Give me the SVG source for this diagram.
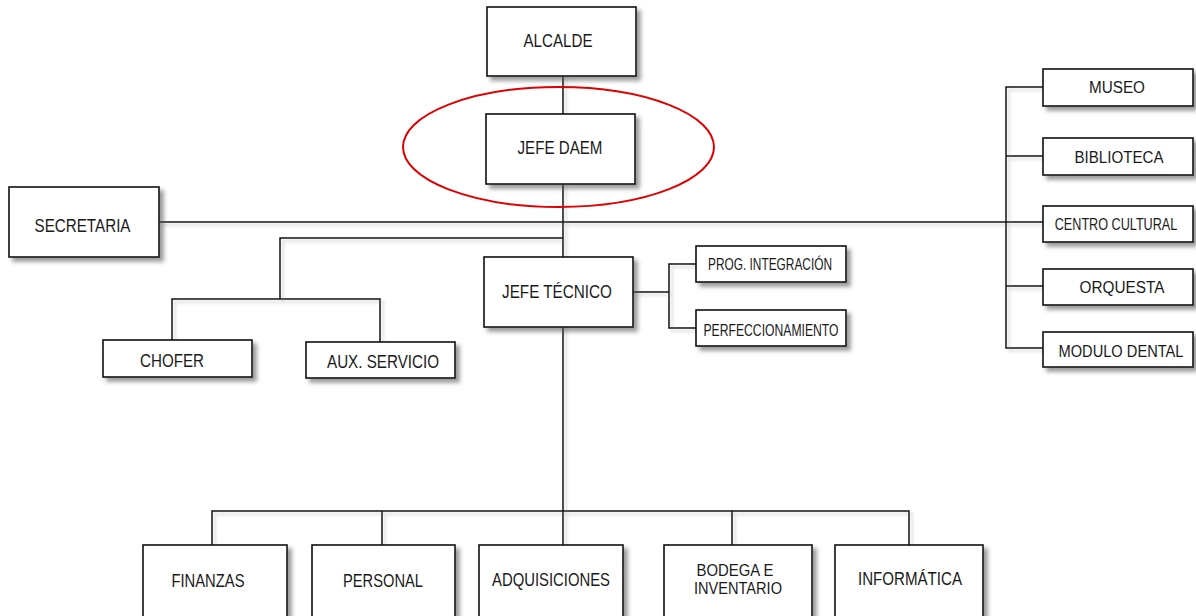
<svg xmlns="http://www.w3.org/2000/svg" width="1196" height="616" viewBox="0 0 1196 616">
<style>
.box{fill:#fff;stroke:#111;stroke-width:1.6;filter:url(#sh)}
.t{font-family:"Liberation Sans",Arial,sans-serif;font-size:17.5px;fill:#1a1a1a;text-anchor:middle}
.s{font-size:16px}
.c{fill:none;stroke:#111;stroke-width:1.5}
</style>
<defs>
<filter id="sh" x="-10%" y="-20%" width="130%" height="150%">
<feDropShadow dx="4" dy="4" stdDeviation="2" flood-color="#555" flood-opacity="0.6"/>
</filter>
<filter id="lsh" x="-5%" y="-5%" width="110%" height="110%">
<feDropShadow dx="3" dy="3" stdDeviation="1.5" flood-color="#999" flood-opacity="0.45"/>
</filter>
</defs>
<rect width="1196" height="616" fill="#fff"/>
<g id="connectors" filter="url(#lsh)">
<path class="c" d="M563,76 V114 M563,184 V545"/>
<path class="c" d="M159,222 H1006"/>
<path class="c" d="M563,238 H280 V299 M172,340 V299 H380 V342"/>
<path class="c" d="M633,292 H669 M696,264 H669 V328 H696"/>
<path class="c" d="M1043,87 H1006 V348 H1043 M1006,156 H1043 M1006,222 H1043 M1006,286 H1043"/>
<path class="c" d="M212,545 V511 H909 V545 M382,511 V545 M732,511 V545"/>
</g>
<g id="alcalde"><rect class="box" x="487" y="7" width="149" height="69"/><text class="t" x="558" y="47" textLength="69" lengthAdjust="spacingAndGlyphs">ALCALDE</text></g>
<g id="jefe-daem"><rect class="box" x="486" y="114" width="149" height="70"/><text class="t" x="560" y="154" textLength="85" lengthAdjust="spacingAndGlyphs">JEFE DAEM</text></g>
<g id="secretaria"><rect class="box" x="9" y="187" width="150" height="70"/><text class="t" x="82.5" y="232" textLength="96" lengthAdjust="spacingAndGlyphs">SECRETARIA</text></g>
<g id="chofer"><rect class="box" x="103" y="340" width="149" height="37"/><text class="t" x="172" y="367" textLength="64" lengthAdjust="spacingAndGlyphs">CHOFER</text></g>
<g id="aux-servicio"><rect class="box" x="306" y="342" width="149" height="36"/><text class="t" x="383" y="368" textLength="112" lengthAdjust="spacingAndGlyphs">AUX. SERVICIO</text></g>
<g id="jefe-tecnico"><rect class="box" x="484" y="257" width="149" height="70"/><text class="t" x="557" y="298" textLength="110" lengthAdjust="spacingAndGlyphs">JEFE TÉCNICO</text></g>
<g id="prog-integracion"><rect class="box" x="696" y="246" width="150" height="36"/><text class="t s" x="770" y="270" textLength="124" lengthAdjust="spacingAndGlyphs">PROG. INTEGRACIÓN</text></g>
<g id="perfeccionamiento"><rect class="box" x="696" y="310" width="150" height="36"/><text class="t s" x="771" y="336" textLength="135" lengthAdjust="spacingAndGlyphs">PERFECCIONAMIENTO</text></g>
<g id="museo"><rect class="box" x="1043" y="69" width="150" height="37"/><text class="t s" x="1117" y="93" textLength="56" lengthAdjust="spacingAndGlyphs">MUSEO</text></g>
<g id="biblioteca"><rect class="box" x="1043" y="138" width="150" height="37"/><text class="t s" x="1119" y="162.5" textLength="89" lengthAdjust="spacingAndGlyphs">BIBLIOTECA</text></g>
<g id="centro-cultural"><rect class="box" x="1043" y="206" width="150" height="36"/><text class="t s" transform="translate(1116,230) scale(0.79,1)" x="0" y="0">CENTRO CULTURAL</text></g>
<g id="orquesta"><rect class="box" x="1043" y="269" width="150" height="36"/><text class="t s" x="1122" y="293" textLength="85" lengthAdjust="spacingAndGlyphs">ORQUESTA</text></g>
<g id="modulo-dental"><rect class="box" x="1043" y="332" width="150" height="35"/><text class="t s" x="1121" y="356.5" textLength="125" lengthAdjust="spacingAndGlyphs">MODULO DENTAL</text></g>
<g id="finanzas"><rect class="box" x="143" y="545" width="144" height="76"/><text class="t" x="208" y="587" textLength="73" lengthAdjust="spacingAndGlyphs">FINANZAS</text></g>
<g id="personal"><rect class="box" x="312" y="545" width="143" height="76"/><text class="t" x="383" y="587" textLength="80" lengthAdjust="spacingAndGlyphs">PERSONAL</text></g>
<g id="adquisiciones"><rect class="box" x="479" y="545" width="144" height="76"/><text class="t" x="551" y="586" textLength="118" lengthAdjust="spacingAndGlyphs">ADQUISICIONES</text></g>
<g id="bodega"><rect class="box" x="664" y="545" width="148" height="76"/><text class="t s" x="735" y="576" textLength="77" lengthAdjust="spacingAndGlyphs">BODEGA E</text><text class="t s" x="738" y="594" textLength="88" lengthAdjust="spacingAndGlyphs">INVENTARIO</text></g>
<g id="informatica"><rect class="box" x="835" y="545" width="148" height="76"/><text class="t" x="910" y="585" textLength="104" lengthAdjust="spacingAndGlyphs">INFORMÁTICA</text></g>
<ellipse id="highlight" cx="558.5" cy="147" rx="155.5" ry="60" fill="none" stroke="#e00000" stroke-width="2"/>
</svg>
